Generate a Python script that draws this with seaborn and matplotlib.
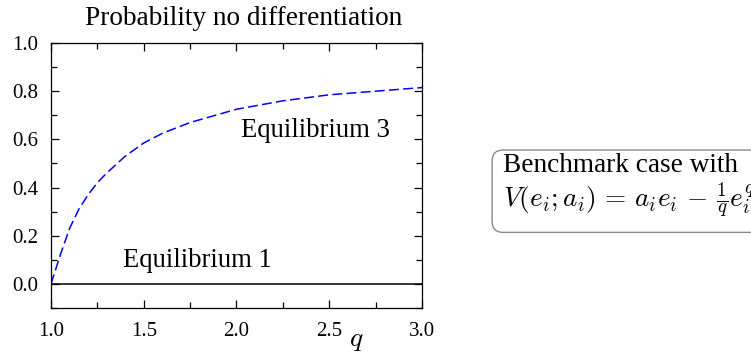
import numpy as np
import pandas as pd
import matplotlib
matplotlib.use("Agg")
import matplotlib.pyplot as plt
from matplotlib.ticker import MultipleLocator
import seaborn as sns

# values
q_eq3 = [1.0, 1.05, 1.1, 1.15, 1.2, 1.25, 1.3, 1.4, 1.5, 1.6, 1.75, 2.0, 2.25, 2.5, 2.75, 3.0]
p_eq3 = [0.0, 0.12, 0.23, 0.31, 0.37, 0.42, 0.46, 0.53, 0.585, 0.625, 0.67, 0.725, 0.76, 0.785, 0.80, 0.815]
q_eq1 = [1.0, 3.0]
p_eq1 = [0.0, 0.0]

title = "Probability no differentiation"
labels = ["Equilibrium 3", "Equilibrium 1"]
box_lines = ["Benchmark case with", r"$V(e_i;a_i)\,=\,a_ie_i\,-\,\frac{1}{q}e_i^q$"]

sns.set_style("ticks")
plt.rcParams["font.family"] = ["Liberation Serif", "DejaVu Serif"]
plt.rcParams["mathtext.fontset"] = "cm"
for k in ["text.color", "axes.labelcolor", "xtick.color", "ytick.color", "axes.edgecolor"]:
    plt.rcParams[k] = "black"

fig = plt.figure(figsize=(7.51, 3.56), dpi=100)
ax = fig.add_axes([0.0679, 0.1348, 0.494, 0.7444])

df3 = pd.DataFrame({"q": q_eq3, "p": p_eq3})
df1 = pd.DataFrame({"q": q_eq1, "p": p_eq1})
sns.lineplot(data=df1, x="q", y="p", ax=ax, color="black", linewidth=1.1)
sns.lineplot(data=df3, x="q", y="p", ax=ax, color="#0000ff", linewidth=1.1)
ax.lines[-1].set_dashes([6.5, 2.8])

ax.set_xlim(1.0, 3.0)
ax.set_ylim(-0.1, 1.0)
ax.xaxis.set_minor_locator(MultipleLocator(0.25))
ax.yaxis.set_minor_locator(MultipleLocator(0.1))
ax.set_xticks([1.0, 1.5, 2.0, 2.5, 3.0])
ax.set_xticklabels(["1.0", "1.5", "2.0", "2.5", "3.0"])
ax.set_yticks([0.0, 0.2, 0.4, 0.6, 0.8, 1.0])
ax.set_yticklabels(["0.0", "0.2", "0.4", "0.6", "0.8", "1.0"])
ax.tick_params(which="both", direction="in", top=True, right=True,
               labelsize=15, width=0.9)
ax.tick_params(axis="x", pad=10)
ax.tick_params(axis="y", pad=9)
ax.tick_params(which="major", length=6)
ax.tick_params(which="minor", length=4)
for s in ax.spines.values():
    s.set_linewidth(0.9)
    s.set_visible(True)

ax.set_ylabel("")
ax.set_xlabel("$q$", fontsize=20)
ax.xaxis.set_label_coords(0.822, -0.075)
ax.set_title(title, fontsize=19.6, pad=13, x=0.52)

ax.text(2.024, 0.61, labels[0], fontsize=19.2, va="baseline", ha="left")
ax.text(1.388, 0.069, labels[1], fontsize=19.2, va="baseline", ha="left")

# the box runs past the right edge of the figure, as in the reference
fig.text(503 / 751, 1 - 153 / 356, box_lines[0] + "\n" + box_lines[1],
         fontsize=19.6, va="top", ha="left", linespacing=1.1,
         bbox=dict(boxstyle="round,pad=0.4", facecolor="white",
                   edgecolor="#888888", linewidth=1.0))

fig.savefig("out.png", dpi=100)
